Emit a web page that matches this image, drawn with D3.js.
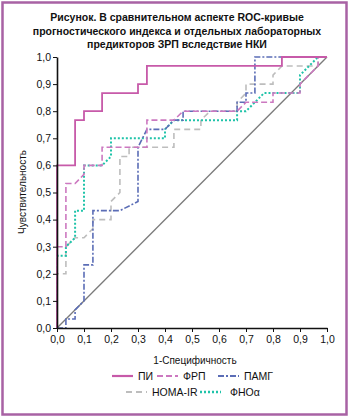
<!DOCTYPE html>
<html>
<head>
<meta charset="utf-8">
<script src="https://cdn.jsdelivr.net/npm/d3@7"></script>
<style>
  body { margin: 0; background: #fff; }
  svg text { font-family: "Liberation Sans", Arial, sans-serif; fill: #111; }
</style>
</head>
<body>
<div id="chart"></div>
<script>
const titleLines = [
  'Рисунок. В сравнительном аспекте ROC-кривые',
  'прогностического индекса и отдельных лабораторных',
  'предикторов ЗРП вследствие НКИ'
];
const ticks = [0, 0.1, 0.2, 0.3, 0.4, 0.5, 0.6, 0.7, 0.8, 0.9, 1.0];

// ROC points [1-specificity, sensitivity]
const piCurve = [[0,0],[0,0.6],[0.067,0.6],[0.067,0.767],[0.1,0.767],[0.1,0.8],[0.167,0.8],[0.167,0.867],
  [0.3,0.867],[0.3,0.9],[0.333,0.9],[0.333,0.967],[0.833,0.967],[0.833,1],[1,1]];
const frpCurve = [[0,0],[0,0.3],[0.033,0.3],[0.033,0.533],[0.067,0.533],[0.1,0.567],[0.1,0.6],[0.167,0.6],
  [0.167,0.667],[0.333,0.667],[0.333,0.767],[0.433,0.767],[0.467,0.8],[0.667,0.8],[0.7,0.833],[0.8,0.833],
  [0.8,0.867],[0.9,0.867],[0.9,0.9],[0.967,0.967],[0.967,1],[1,1]];
const pamgCurve = [[0,0],[0.033,0],[0.033,0.033],[0.067,0.033],[0.067,0.067],[0.1,0.1],[0.1,0.233],[0.133,0.233],
  [0.133,0.433],[0.233,0.433],[0.3,0.467],[0.3,0.667],[0.333,0.733],[0.4,0.733],[0.433,0.767],[0.467,0.767],
  [0.467,0.8],[0.667,0.8],[0.667,0.833],[0.7,0.833],[0.7,0.867],[0.733,0.867],[0.733,1],[1,1]];
const homaCurve = [[0,0],[0,0.2],[0.033,0.2],[0.033,0.3],[0.067,0.333],[0.1,0.333],[0.133,0.367],[0.133,0.4],
  [0.2,0.4],[0.2,0.467],[0.233,0.5],[0.233,0.633],[0.267,0.633],[0.267,0.667],[0.433,0.667],[0.433,0.733],
  [0.533,0.733],[0.533,0.767],[0.567,0.8],[0.667,0.8],[0.667,0.833],[0.7,0.867],[0.7,0.9],[0.8,0.9],
  [0.8,0.933],[0.833,0.967],[0.967,0.967],[0.967,1],[1,1]];
const fnoCurve = [[0,0],[0,0.267],[0.033,0.267],[0.033,0.3],[0.067,0.333],[0.067,0.433],[0.1,0.433],[0.1,0.6],
  [0.167,0.6],[0.2,0.633],[0.2,0.7],[0.4,0.7],[0.4,0.733],[0.433,0.767],[0.667,0.767],[0.667,0.8],[0.7,0.8],
  [0.767,0.867],[0.9,0.867],[0.9,0.933],[0.967,1],[1,1]];

const series = [
  { name: 'ПИ', data: piCurve, color: '#c75aa9', dash: null, width: 1.8 },
  { name: 'ФРП', data: frpCurve, color: '#cc78c0', dash: '6,3', width: 1.6 },
  { name: 'ПАМГ', data: pamgCurve, color: '#5b6db6', dash: '6,2,2,2', width: 1.6 },
  { name: 'HOMA-IR', data: homaCurve, color: '#bdbdbd', dash: '6,4', width: 1.6 },
  { name: 'ФНОα', data: fnoCurve, color: '#1fc3a9', dash: '2,2', width: 2 }
];

const W = 350, H = 419;
const svg = d3.select('#chart').append('svg').attr('width', W).attr('height', H);

// frame
svg.append('rect').attr('x', 2.5).attr('y', 2.5).attr('width', 344).attr('height', 412)
  .attr('fill', 'none').attr('stroke', '#a862a4').attr('stroke-width', 2.5);

svg.selectAll('.title').data(titleLines).enter().append('text')
  .attr('x', 177).attr('y', (d, i) => 21 + i * 13.5)
  .attr('text-anchor', 'middle').attr('font-weight', 'bold').attr('font-size', 10.5)
  .text(d => d);

const x = d3.scaleLinear().domain([0, 1]).range([57, 327]);
const y = d3.scaleLinear().domain([0, 1]).range([328, 57]);

// diagonal reference
svg.append('line').attr('x1', x(0)).attr('y1', y(0)).attr('x2', x(1)).attr('y2', y(1))
  .attr('stroke', '#7a7a7a').attr('stroke-width', 1.3);

const line = d3.line().x(d => x(d[0])).y(d => y(d[1]));

// draw lighter series first, ПИ last on top
[3, 4, 2, 1, 0].forEach(i => {
  const s = series[i];
  svg.append('path').datum(s.data).attr('d', line)
    .attr('fill', 'none').attr('stroke', s.color).attr('stroke-width', s.width)
    .attr('stroke-dasharray', s.dash);
});

const fmt = d => d3.format('.1f')(d).replace('.', ',');

const xAxis = svg.append('g').attr('transform', `translate(0,${y(0)})`)
  .call(d3.axisBottom(x).tickValues(ticks).tickFormat(fmt).tickSize(4).tickSizeOuter(0));
const yAxis = svg.append('g').attr('transform', `translate(${x(0)},0)`)
  .call(d3.axisLeft(y).tickValues(ticks).tickFormat(fmt).tickSize(4).tickSizeOuter(0));
[xAxis, yAxis].forEach(g => {
  g.select('.domain').attr('stroke', '#111').attr('stroke-width', 1.6);
  g.selectAll('.tick line').attr('stroke', '#111').attr('stroke-width', 1);
  g.selectAll('.tick text').attr('font-size', 10.5).attr('fill', '#111')
    .style('font-family', '"Liberation Sans", Arial, sans-serif');
});
xAxis.selectAll('.tick text').attr('y', 8);
yAxis.selectAll('.tick text').attr('x', -6);

svg.append('text').attr('x', 195).attr('y', 364).attr('text-anchor', 'middle')
  .attr('font-size', 10).text('1-Специфичность');
svg.append('text').attr('transform', 'translate(26,192) rotate(-90)').attr('text-anchor', 'middle')
  .attr('font-size', 10).text('Чувствительность');

// legend
const legendPos = [
  { x: 112, y: 376 }, { x: 157, y: 376 }, { x: 218, y: 376 },
  { x: 126, y: 392 }, { x: 200, y: 392 }
];
series.forEach((s, i) => {
  const p = legendPos[i];
  const g = svg.append('g').attr('transform', `translate(${p.x},${p.y})`);
  g.append('line').attr('x1', 0).attr('x2', 21).attr('y1', 0).attr('y2', 0)
    .attr('stroke', s.color).attr('stroke-width', s.width + 0.4).attr('stroke-dasharray', s.dash);
  g.append('text').attr('x', i === 4 ? 30 : 26).attr('y', 3.8).attr('font-size', 10.5).text(s.name);
});
</script>
</body>
</html>
